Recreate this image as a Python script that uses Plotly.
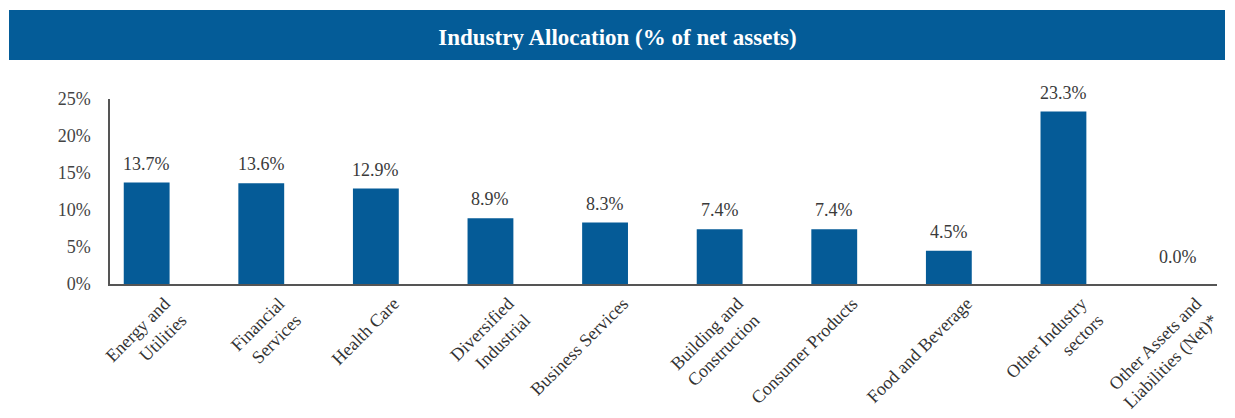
import plotly.graph_objects as go

categories = [
    "Energy and<br>Utilities",
    "Financial<br>Services",
    "Health Care",
    "Diversified<br>Industrial",
    "Business Services",
    "Building and<br>Construction",
    "Consumer Products",
    "Food and Beverage",
    "Other Industry<br>sectors",
    "Other Assets and<br>Liabilities (Net)*",
]
values = [13.7, 13.6, 12.9, 8.9, 8.3, 7.4, 7.4, 4.5, 23.3, 0.0]
y_ticks = [0, 5, 10, 15, 20, 25]

BLUE = "#055B97"
FONT = "Liberation Serif"

W, H = 1235, 418
ml, mr, mt, mb = 110, 18, 99, 134
pw = W - ml - mr
ph = H - mt - mb

xs = list(range(len(categories)))

fig = go.Figure()
fig.add_trace(go.Bar(
    x=xs,
    y=values,
    marker=dict(color=BLUE, line=dict(width=0)),
    width=0.40,
    cliponaxis=False,
))

for xi, v in zip(xs, values):
    fig.add_annotation(x=xi, y=v, text=f"{v:.1f}%", showarrow=False,
                       yanchor="middle", yshift=19 if v > 0 else 27,
                       font=dict(family=FONT, size=18, color="#3a3a3a"))

# title banner
fig.add_shape(type="rect", xref="paper", yref="paper",
              x0=(9 - ml) / pw, x1=(1225 - ml) / pw,
              y0=(H - mb - 60) / ph, y1=(H - mb - 10) / ph,
              fillcolor="#045C98", line=dict(width=0), layer="above")

fig.update_layout(
    width=W, height=H,
    margin=dict(l=ml, r=mr, t=mt, b=mb, autoexpand=False),
    paper_bgcolor="white", plot_bgcolor="white",
    showlegend=False,
    title=dict(text="<b>Industry Allocation (% of net assets)</b>",
               x=0.5, xref="container", xanchor="center",
               y=1 - 37 / H, yref="container", yanchor="middle",
               font=dict(family=FONT, size=23, color="white")),
    xaxis=dict(
        range=[-0.32, 9.34],
        tickmode="array",
        tickvals=xs,
        ticktext=categories,
        tickangle=-45,
        tickfont=dict(family=FONT, size=18, color="#333"),
        showgrid=False, zeroline=False,
        showline=True, linecolor="#555", linewidth=2,
        ticks="",
        ticklabelshift=18,
        automargin=False,
    ),
    yaxis=dict(
        range=[0, 25],
        tickvals=y_ticks,
        ticktext=[f"{t}%" for t in y_ticks],
        tickfont=dict(family=FONT, size=18, color="#444"),
        showgrid=False, zeroline=False,
        showline=True, linecolor="#555", linewidth=1.5,
        ticks="outside", ticklen=14, tickcolor="rgba(0,0,0,0)",
        automargin=False,
    ),
)

fig.write_html("out.html")
